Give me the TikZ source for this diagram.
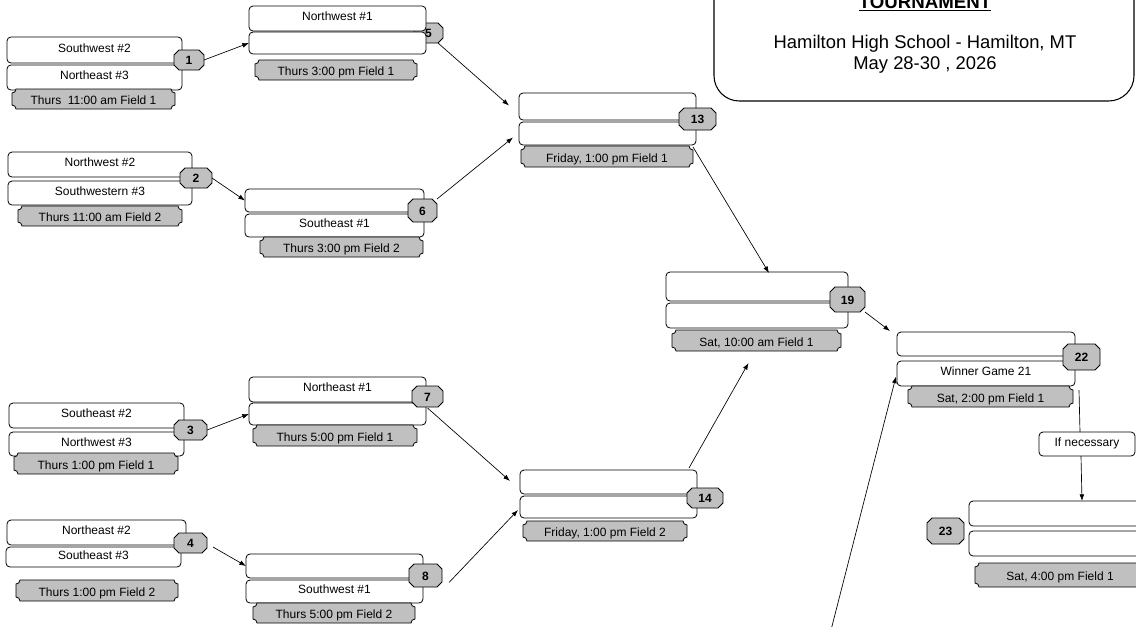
\documentclass[tikz,border=0pt]{standalone}
\usepackage{fontspec}
\setmainfont{Liberation Sans}
\usetikzlibrary{calc,arrows.meta}
\definecolor{tlgrey}{RGB}{192,192,192}
\tikzset{
  slot/.style={draw=black, fill=white, rounded corners=3pt, line width=0.6pt, inner sep=0pt, outer sep=0pt,
    font=\fontsize{9}{10}\selectfont, text height=6.4pt, text depth=3pt},
  tltext/.style={inner sep=0pt, outer sep=0pt, font=\fontsize{9}{10}\selectfont, text height=8.4pt, text depth=0pt},
  badgetext/.style={inner sep=0pt, outer sep=0pt, font=\fontsize{9}{10}\selectfont\bfseries, text height=7.4pt, text depth=0pt},
  shapeline/.style={draw=black, fill=tlgrey, line width=0.6pt},
  arr/.style={-{Latex[length=5pt,width=3.6pt]}, line width=0.5pt},
  conn/.style={line width=0.5pt},
  titletext/.style={inner sep=0pt, anchor=base, font=\fontsize{13.8}{16}\selectfont},
}
% name x1 y1 x2 y2 text
\newcommand\slotbox[6]{\node[slot, minimum width={(#4-#2)*0.75pt}, minimum height={(#5-#3)*0.75pt}] (#1) at ({(#2+#4)/2},{(#3+#5)/2}) {#6};}
\newcommand\timebox[6]{%
  \draw[shapeline] (#2,{#3+4}) .. controls ({#2+2.2},{#3+4}) and ({#2+4},{#3+2.2}) .. ({#2+4},#3)
    -- ({#4-4},#3) .. controls ({#4-4},{#3+2.2}) and ({#4-2.2},{#3+4}) .. (#4,{#3+4})
    -- (#4,{#5-4}) .. controls ({#4-2.2},{#5-4}) and ({#4-4},{#5-2.2}) .. ({#4-4},#5)
    -- ({#2+4},#5) .. controls ({#2+4},{#5-2.2}) and ({#2+2.2},{#5-4}) .. (#2,{#5-4}) -- cycle;
  \node[tltext, minimum width={(#4-#2)*0.75pt}, minimum height={(#5-#3)*0.75pt}] (#1) at ({(#2+#4)/2},{(#3+#5)/2}) {#6};}
\newcommand\badgebox[6]{%
  \draw[shapeline] ({#2+5},#3) -- ({#4-5},#3) -- (#4,{#3+5}) -- (#4,{#5-5}) -- ({#4-5},#5)
    -- ({#2+5},#5) -- (#2,{#5-5}) -- (#2,{#3+5}) -- cycle;
  \node[badgetext, minimum width={(#4-#2)*0.75pt}, minimum height={(#5-#3)*0.75pt}] (#1) at ({(#2+#4)/2},{(#3+#5)/2}) {#6};}
\begin{document}
\begin{tikzpicture}[x=0.75pt, y=-0.75pt]
\useasboundingbox (0,0) rectangle (1136,626);
\clip (0,0) rectangle (1136,626);

% title box
\draw[line width=0.8pt, rounded corners=19pt] (714,-40) rectangle (1134,101);
\node[titletext, font=\fontsize{14}{16}\selectfont\bfseries] (ttl) at (925,8) {\underline{TOURNAMENT}};
\node[titletext] (loc1) at (925,48) {Hamilton High School - Hamilton, MT};
\node[titletext] (loc2) at (925,69) {May 28-30 , 2026};

% game 1
\slotbox{g1a}{7}{37}{182}{63}{Southwest \#2}
\slotbox{g1b}{7}{65}{182}{90}{Northeast \#3}
\timebox{tl1}{12}{89}{175}{109}{Thurs~~11:00 am Field 1}
\badgebox{b1}{174}{50}{204}{70}{1}

% game 5
\badgebox{b5}{414}{23}{443}{43}{5}
\slotbox{g5a}{249}{6}{426}{31}{Northwest \#1}
\slotbox{g5b}{249}{32}{426}{54}{}
\timebox{tl5}{255}{60}{417}{80}{Thurs 3:00 pm Field 1}

% game 2
\slotbox{g2a}{8}{152}{192}{177}{Northwest \#2}
\slotbox{g2b}{8}{181}{192}{205}{Southwestern \#3}
\timebox{tl2}{18}{206}{182}{226}{Thurs 11:00 am Field 2}
\badgebox{b2}{180}{168}{212}{188}{2}

% game 6
\slotbox{g6a}{245}{189}{424}{212}{}
\slotbox{g6b}{245}{214}{424}{237}{Southeast \#1}
\timebox{tl6}{260}{237}{423}{257}{Thurs 3:00 pm Field 2}
\badgebox{b6}{408}{199}{437}{222}{6}

% game 13
\slotbox{g13a}{519}{93}{696}{120}{}
\slotbox{g13b}{519}{122}{696}{145}{}
\timebox{tl13}{521}{146}{693}{167}{Friday, 1:00 pm Field 1}
\badgebox{b13}{679}{108}{716}{130}{13}

% game 19
\slotbox{g19a}{666}{272}{848}{301}{}
\slotbox{g19b}{666}{303}{848}{328}{}
\timebox{tl19}{672}{330}{841}{351}{Sat, 10:00 am Field 1}
\badgebox{b19}{830}{287}{865}{312}{19}

% game 22
\slotbox{g22a}{897}{332}{1075}{356}{}
\slotbox{g22b}{897}{361}{1075}{386}{Winner Game 21}
\timebox{tl22}{908}{386}{1073}{407}{Sat, 2:00 pm Field 1}
\badgebox{b22}{1063}{344}{1100}{370}{22}

\slotbox{nec}{1039}{432}{1135}{456}{If necessary}

% game 23
\slotbox{g23a}{969}{501}{1147}{526}{}
\slotbox{g23b}{969}{531}{1147}{556}{}
\timebox{tl23}{975}{563}{1145}{587}{Sat, 4:00 pm Field 1}
\badgebox{b23}{927}{518}{964}{544}{23}

% game 3
\slotbox{g3a}{9}{403}{184}{428}{Southeast \#2}
\slotbox{g3b}{9}{432}{184}{456}{Northwest \#3}
\timebox{tl3}{14}{453}{178}{474}{Thurs 1:00 pm Field 1}
\badgebox{b3}{174}{420}{207}{440}{3}

% game 7
\slotbox{g7a}{249}{377}{426}{402}{Northeast \#1}
\slotbox{g7b}{249}{403}{426}{425}{}
\timebox{tl7}{253}{425}{417}{446}{Thurs 5:00 pm Field 1}
\badgebox{b7}{412}{386}{443}{407}{7}

% game 14
\slotbox{g14a}{520}{470}{697}{494}{}
\slotbox{g14b}{520}{496}{697}{518}{}
\timebox{tl14}{523}{521}{687}{541}{Friday, 1:00 pm Field 2}
\badgebox{b14}{687}{488}{723}{508}{14}

% game 4
\slotbox{g4a}{7}{520}{186}{545}{Northeast \#2}
\slotbox{g4b}{6}{547}{181}{567}{Southeast \#3}
\timebox{tl4}{16}{580}{178}{601}{Thurs 1:00 pm Field 2}
\badgebox{b4}{174}{533}{207}{553}{4}

% game 8
\slotbox{g8a}{246}{554}{423}{578}{}
\slotbox{g8b}{246}{580}{423}{603}{Southwest \#1}
\timebox{tl8}{253}{603}{415}{623}{Thurs 5:00 pm Field 2}
\badgebox{b8}{409}{564}{442}{587}{8}

% connectors
\draw[arr] (b1.east) -- (g5b.west);
\draw[arr] (b2.east) -- (g6a.west);
\draw[arr] (b3.east) -- (g7b.west);
\draw[arr] ($(b4.east)+(6,4)$) -- (g8a.west);
\draw[arr] ($(b5.south east)+(-5,0)$) -- ($(g13a.west)+(-10,-1)$);
\draw[arr] (b6.north east) -- ($(g13b.west)+(-6,4)$);
\draw[arr] ($(b7.south)+(0,1)$) -- ($(g14a.west)+(-10,-1)$);
\draw[arr] ($(b8.east)+(7,7)$) -- ($(g14b.west)+(-2,3)$);
\draw[arr] ($(g13b.south east)+(-3,2)$) -- ($(g19a.north)+(12,1)$);
\draw[arr] ($(g14a.north east)+(-8,-2)$) -- ($(tl19.south)+(-8,12)$);
\draw[arr] (b19.south east) -- ($(g22a.north west)+(-7,-1)$);
\coordinate (foot) at (831,630);
\draw[arr] (foot) -- ($(g22b.west)+(-1,3)$);
\draw[conn] ($(g22b.south east)+(4,4)$) -- ($(nec.north)+(-7,0)$);
\draw[arr] ($(nec.south)+(-6,0)$) -- ($(g23a.north west)+(113,0)$);
\end{tikzpicture}
\end{document}
